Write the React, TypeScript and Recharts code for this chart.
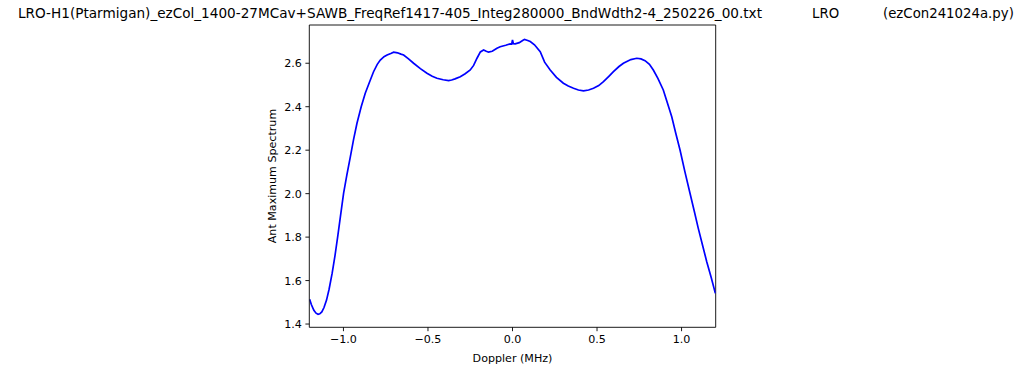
import React from 'react';
import { LineChart, Line, XAxis, YAxis, ReferenceLine } from 'recharts';

const dopplerMHz = [
  -1.2, -1.19, -1.175, -1.162, -1.15, -1.14, -1.128, -1.115, -1.1, -1.085, -1.067, -1.05, -1.034, -1.017,
  -0.999, -0.98, -0.959, -0.94, -0.92, -0.895, -0.871, -0.845, -0.822, -0.8,
  -0.782, -0.76, -0.742, -0.72, -0.703, -0.68, -0.66, -0.644, -0.615, -0.585,
  -0.545, -0.506, -0.475, -0.447, -0.41, -0.378, -0.36, -0.34, -0.309, -0.28,
  -0.25, -0.23, -0.21, -0.19, -0.171, -0.155, -0.142, -0.12, -0.092, -0.073,
  -0.04, -0.014, -0.005, 0.0, 0.005, 0.016, 0.04, 0.06, 0.071, 0.09,
  0.105, 0.13, 0.164, 0.19, 0.223, 0.26, 0.301, 0.33, 0.361, 0.39,
  0.42, 0.45, 0.479, 0.51, 0.538, 0.57, 0.597, 0.63, 0.656, 0.7,
  0.735, 0.76, 0.784, 0.81, 0.833, 0.86, 0.892, 0.915, 0.942, 0.965,
  0.991, 1.02, 1.05, 1.075, 1.099, 1.125, 1.149, 1.175, 1.2,
];

const antMaxSpectrum = [
  1.514, 1.49, 1.463, 1.45, 1.445, 1.447, 1.456, 1.476, 1.51, 1.56, 1.633, 1.715, 1.802, 1.9,
  2.002, 2.085, 2.17, 2.25, 2.324, 2.4, 2.462, 2.515, 2.561, 2.595,
  2.615, 2.63, 2.638, 2.645, 2.651, 2.648, 2.642, 2.638, 2.62, 2.6,
  2.575, 2.554, 2.54, 2.531, 2.524, 2.52, 2.523, 2.528, 2.538, 2.552,
  2.569, 2.59, 2.623, 2.652, 2.661, 2.655, 2.651, 2.655, 2.669, 2.676,
  2.683, 2.689, 2.688, 2.707, 2.69, 2.689, 2.695, 2.705, 2.71, 2.705,
  2.7, 2.685, 2.653, 2.605, 2.569, 2.535, 2.508, 2.495, 2.485, 2.477,
  2.473, 2.477, 2.485, 2.497, 2.515, 2.54, 2.561, 2.585, 2.6, 2.617,
  2.623, 2.62, 2.612, 2.595, 2.569, 2.53, 2.477, 2.42, 2.354, 2.28,
  2.201, 2.1, 2.002, 1.92, 1.84, 1.76, 1.687, 1.615, 1.541,
];

const xTicks = [-1.0, -0.5, 0.0, 0.5, 1.0];
const yTicks = [1.4, 1.6, 1.8, 2.0, 2.2, 2.4, 2.6];
const xDomain = [-1.202, 1.202];
const yDomain = [1.385, 2.776];

const titleMain = 'LRO-H1(Ptarmigan)_ezCol_1400-27MCav+SAWB_FreqRef1417-405_Integ280000_BndWdth2-4_250226_00.txt';
const titleSite = 'LRO';
const titleProg = '(ezCon241024a.py)';
const xLabel = 'Doppler (MHz)';
const yLabel = 'Ant Maximum Spectrum';

const data = dopplerMHz.map((x, i) => ({ x, y: antMaxSpectrum[i] }));

const FONT = "'DejaVu Sans', sans-serif";
const fmt = (v: number) => {
  const s = Math.abs(v).toFixed(1);
  return v < 0 ? '\u2212' + s : s;
};

export default function App() {
  const tickStyle = { fill: '#000', fontSize: 11.1, fontFamily: FONT };
  return (
    <div style={{ position: 'absolute', left: 0, top: 0, width: 1024, height: 372, background: '#fff' }}>
      <LineChart
        width={1024}
        height={372}
        data={data}
        margin={{ top: 25, right: 308.3, left: 249.3, bottom: 14.7 }}
      >
        <XAxis
          dataKey="x"
          type="number"
          domain={xDomain}
          allowDataOverflow
          ticks={xTicks}
          tickFormatter={fmt}
          height={30}
          tick={tickStyle}
          tickSize={3.9}
          tickMargin={3.5}
          axisLine={{ stroke: '#000', strokeWidth: 0.9 }}
          tickLine={{ stroke: '#000', strokeWidth: 0.9 }}
        />
        <YAxis
          type="number"
          domain={yDomain}
          allowDataOverflow
          ticks={yTicks}
          tickFormatter={(v: number) => v.toFixed(1)}
          width={60}
          tick={tickStyle}
          tickSize={3.9}
          tickMargin={3.5}
          axisLine={{ stroke: '#000', strokeWidth: 0.9 }}
          tickLine={{ stroke: '#000', strokeWidth: 0.9 }}
        />
        <ReferenceLine y={yDomain[1]} stroke="#000" strokeWidth={0.9} />
        <ReferenceLine x={xDomain[1]} stroke="#000" strokeWidth={0.9} />
        <Line
          dataKey="y"
          type="linear"
          stroke="#0000ff"
          strokeWidth={1.7}
          dot={false}
          activeDot={false}
          isAnimationActive={false}
        />
      </LineChart>
      <svg
        width={1024}
        height={372}
        style={{ position: 'absolute', left: 0, top: 0, pointerEvents: 'none' }}
      >
        <g fontFamily={FONT} fill="#000">
          <text x={18} y={17.5} fontSize={13.3} textLength={744} lengthAdjust="spacingAndGlyphs">{titleMain}</text>
          <text x={812} y={17.5} fontSize={13.3}>{titleSite}</text>
          <text x={883} y={17.5} fontSize={13.3}>{titleProg}</text>
          <text x={512.5} y={361.5} fontSize={11.1} textAnchor="middle">{xLabel}</text>
          <text
            x={275.5}
            y={176}
            fontSize={11.1}
            textAnchor="middle"
            transform="rotate(-90 275.5 176)"
          >
            {yLabel}
          </text>
        </g>
      </svg>
    </div>
  );
}
